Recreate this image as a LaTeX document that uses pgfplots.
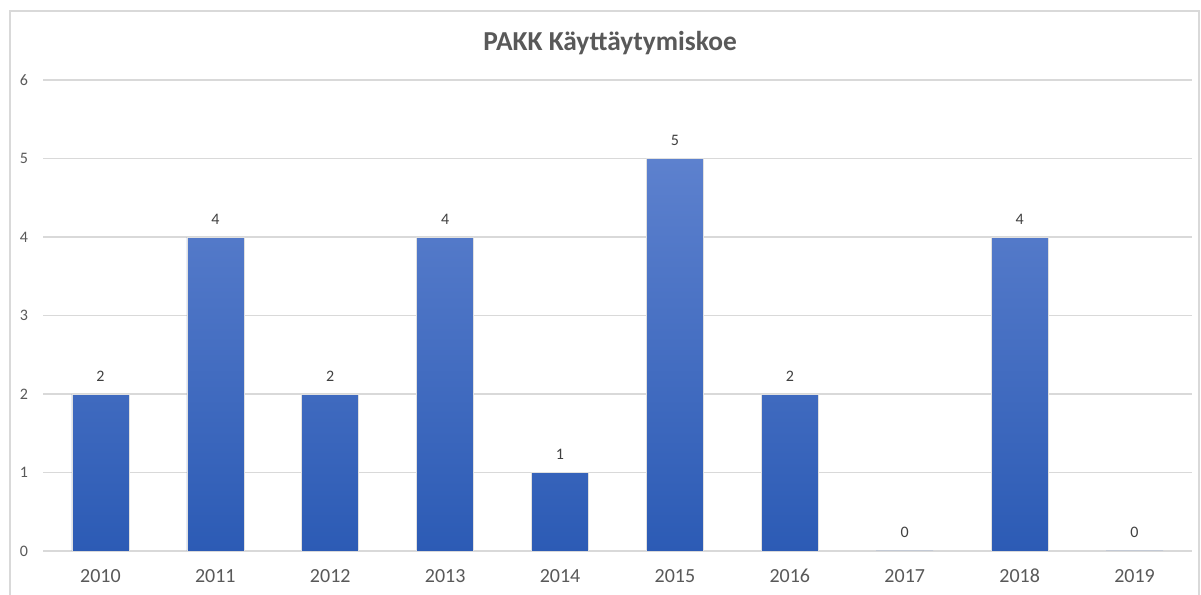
\documentclass[border=0pt]{standalone}
\usepackage{fontspec}
\setmainfont{Carlito}
\usepackage{pgfplots}
\pgfplotsset{compat=1.18}
\definecolor{bartop}{RGB}{93,129,206}
\definecolor{barbot}{RGB}{44,91,181}
\definecolor{gridc}{RGB}{217,217,217}
\definecolor{txt}{RGB}{89,89,89}
\begin{document}
\begin{tikzpicture}[x=1pt,y=1pt]
\useasboundingbox (0,0) rectangle (600.5,297.5);
\fill[white] (0,0) rectangle (600.5,297.5);
\draw[gridc, line width=0.8pt] (5,-5) rectangle (599.5,292);
\begin{axis}[
    at={(21.5pt,22pt)}, anchor=south west,
    scale only axis, width=574.5pt, height=235.5pt,
    ybar, bar width=28.5pt,
    xmin=-0.5, xmax=9.5, ymin=0, ymax=6,
    xtick=data,
    xticklabels={2010,2011,2012,2013,2014,2015,2016,2017,2018,2019},
    ytick={0,1,2,3,4,5,6},
    axis line style={draw=none},
    major tick length=0pt,
    ymajorgrids, grid style={gridc, line width=0.6pt},
    /pgf/number format/assume math mode=true,
    xticklabel style={font=\fontsize{10}{12}\selectfont, text=txt, yshift=-5.5pt},
    yticklabel style={font=\fontsize{8}{10}\selectfont, text=txt, xshift=-4pt},
    nodes near coords,
    every node near coord/.append style={font=\fontsize{8}{10}\selectfont, text=black!75, yshift=3pt},
]
\addplot[draw=black!12, line width=0.3pt, top color=bartop, bottom color=barbot] coordinates {
    (0,2) (1,4) (2,2) (3,4) (4,1) (5,5) (6,2) (7,0) (8,4) (9,0)
};
\end{axis}
\node[font=\bfseries\fontsize{13.7}{16}\selectfont, text=txt] at (305,276) {PAKK Käyttäytymiskoe};
\end{tikzpicture}
\end{document}
